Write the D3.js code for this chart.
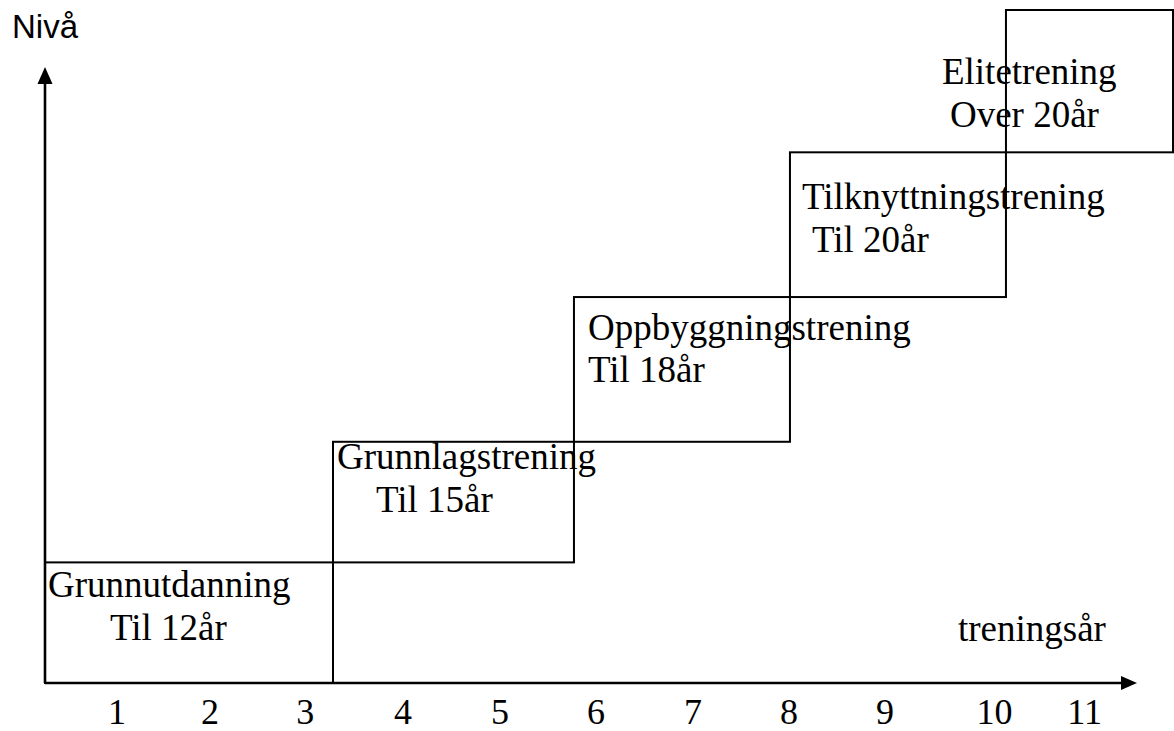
<!DOCTYPE html>
<html>
<head>
<meta charset="utf-8">
<script src="https://cdn.jsdelivr.net/npm/d3@7"></script>
<style>
  body { margin: 0; background: #fff; }
  svg { display: block; }
  .stage-text { font-family: "Liberation Serif", "Times New Roman", serif; font-size: 37px; fill: #000; }
  .tick-text { font-family: "Liberation Serif", "Times New Roman", serif; font-size: 36px; fill: #000; }
  .y-title { font-family: "Liberation Sans", Arial, sans-serif; font-size: 33px; fill: #000; }
</style>
</head>
<body>
<div class="D3"></div>
<script>
//stage names, age text, start/end on the year axis and level (box top)
var stageNames = ["Grunnutdanning", "Grunnlagstrening", "Oppbyggningstrening", "Tilknyttningstrening", "Elitetrening"];
var stageAges = ["Til 12år", "Til 15år", "Til 18år", "Til 20år", "Over 20år"];
var stageStart = [0.25, 3.25, 5.76, 8.01, 10.26];
var stageEnd = [3.25, 5.76, 8.01, 10.26, 12];
var stageLevel = [1, 2, 3.2, 4.4, 5.58];

//x tick labels and where they sit on the year axis
var tickLabels = ["1", "2", "3", "4", "5", "6", "7", "8", "9", "10", "11"];
var tickPos = [1, 1.97, 2.96, 3.98, 4.99, 5.99, 7, 8, 9, 10.14, 11.08];

var xTitle = "treningsår";
var yTitle = "Nivå";

//text offsets inside each box (px from box top-left): [line1 dx, line1 dy, line2 dx, line2 dy]
var labelOffsets = [
  [3, 35, 65, 78],
  [4, 27, 43, 70],
  [14, 43, 14, 85],
  [12, 57, 22, 100],
  [-64, 74, -56, 117]
];

var svgWidth = 1174;
var svgHeight = 731;

var svg = d3.select(".D3")
  .append("svg")
  .attr("width", svgWidth)
  .attr("height", svgHeight);

//year axis and level axis
var x = d3.scaleLinear().domain([0, 12]).range([21, 1173]);
var y = d3.scaleLinear().domain([0, 5.58]).range([683, 10]);

var x0 = x(0.25);
var y0 = y(0);

//stage boxes
var stages = stageNames.map((n, i) => ({
  name: n,
  age: stageAges[i],
  x1: x(stageStart[i]),
  x2: x(stageEnd[i]),
  top: y(stageLevel[i]),
  bottom: y(i === 0 ? 0 : stageLevel[i - 1]),
  off: labelOffsets[i]
}));

var boxes = svg.append("g");
boxes.selectAll("rect")
  .data(stages)
  .enter()
  .append("rect")
  .attr("x", d => d.x1)
  .attr("y", d => d.top)
  .attr("width", d => d.x2 - d.x1)
  .attr("height", d => d.bottom - d.top)
  .attr("fill", "none")
  .attr("stroke", "#000")
  .attr("stroke-width", 2);

var labels = svg.append("g");
labels.selectAll(".name")
  .data(stages)
  .enter()
  .append("text")
  .attr("class", "stage-text name")
  .attr("x", d => d.x1 + d.off[0])
  .attr("y", d => d.top + d.off[1])
  .text(d => d.name);

labels.selectAll(".age")
  .data(stages)
  .enter()
  .append("text")
  .attr("class", "stage-text age")
  .attr("x", d => d.x1 + d.off[2])
  .attr("y", d => d.top + d.off[3])
  .text(d => d.age);

//axes with arrow heads
var axes = svg.append("g");
axes.append("line")
  .attr("x1", x0).attr("y1", y0)
  .attr("x2", 1122).attr("y2", y0)
  .attr("stroke", "#000").attr("stroke-width", 2.6);
axes.append("path")
  .attr("d", `M1137,${y0} L1121,${y0 - 7} L1121,${y0 + 7} Z`)
  .attr("fill", "#000");

axes.append("line")
  .attr("x1", x0).attr("y1", y0)
  .attr("x2", x0).attr("y2", 82)
  .attr("stroke", "#000").attr("stroke-width", 2.6);
axes.append("path")
  .attr("d", `M${x0},67 L${x0 - 7.5},84 L${x0 + 7.5},84 Z`)
  .attr("fill", "#000");

//tick labels
axes.selectAll(".tick-text")
  .data(tickPos)
  .enter()
  .append("text")
  .attr("class", "tick-text")
  .attr("x", d => x(d))
  .attr("y", 724)
  .attr("text-anchor", "middle")
  .text((d, i) => tickLabels[i]);

svg.append("text")
  .attr("class", "stage-text")
  .attr("x", 958)
  .attr("y", 641)
  .text(xTitle);

svg.append("text")
  .attr("class", "y-title")
  .attr("x", 12)
  .attr("y", 38)
  .text(yTitle);
</script>
</body>
</html>
